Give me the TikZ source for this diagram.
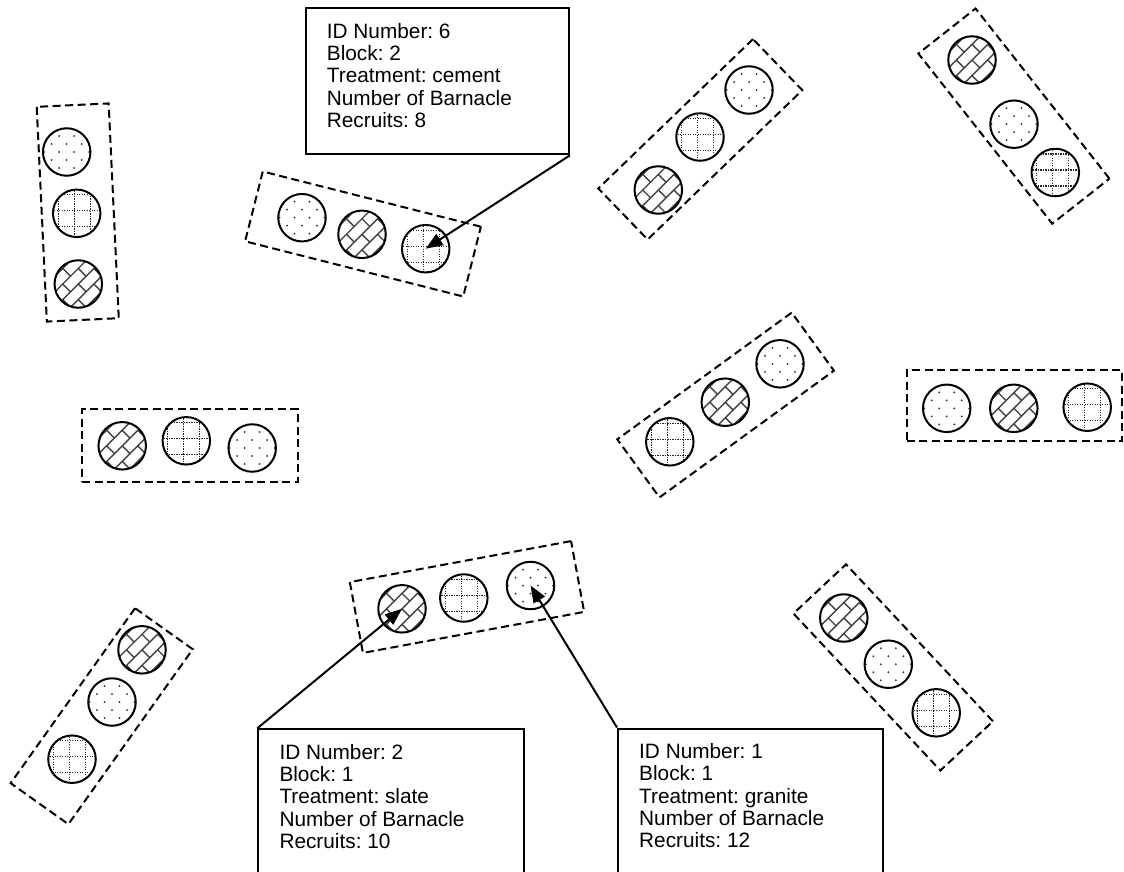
\documentclass[tikz,border=0pt]{standalone}
\usepackage{fontspec}
\newfontfamily\arialfont{Liberation Sans}
\usetikzlibrary{arrows.meta}

\newcommand\boxfont{\arialfont\frenchspacing\fontsize{20.8}{22.3}\selectfont}

% fill patterns, drawn around the origin and clipped to a disc
\newcommand\dotsfill{%
  \foreach \r in {-3,...,3}{%
    \pgfmathsetmacro\off{7.5*mod(\r+5,2)}%
    \foreach \c in {-2,...,2}{\fill[black!85] (\c*15+\off,\r*8) circle[radius=1pt];}}}
\newcommand\gridfill{%
  \foreach \k in {-2,...,2}{%
    \draw[gridline] (\k*16-2.5,-30) -- (\k*16-2.5,30);
    \draw[gridline] (-30,\k*16-2.5) -- (30,\k*16-2.5);}}
\newcommand\brickfill{%
  \begin{scope}[rotate=45]
    \foreach \k in {-3,...,3}{\draw[brickline] (-40,\k*11) -- (40,\k*11);}
    \foreach \k in {-3,...,2}{%
      \pgfmathsetmacro\off{11*mod(\k+4,2)}%
      \foreach \m in {-2,...,2}{\draw[brickline] (\m*22+\off,\k*11) -- ++(0,11);}}
  \end{scope}}

% a patterned tile: #1 name, #2 centre, #3 fill
\newcommand\disc[3]{%
  \begin{scope}
    \clip #2 circle[radius=24pt];
    \begin{scope}[shift={#2}]#3\end{scope}
  \end{scope}
  \node[tile] (#1) at #2 {};}

\begin{document}
\begin{tikzpicture}[x=1pt,y=-1pt,
  tile/.style={circle, draw, line width=2pt, minimum size=47.5pt, inner sep=0pt},
  grp/.style={draw, line width=2pt, dash pattern=on 8pt off 4.5pt, inner sep=0pt},
  card/.style={draw, line width=2pt, anchor=north west, inner sep=0pt, fill=white},
  gridline/.style={line width=1.3pt, dash pattern=on 1.2pt off 1.3pt, black!85},
  brickline/.style={line width=1.4pt, black!75},
  pointer/.style={line width=2pt, -{Triangle[length=17pt,width=13pt]}},
  txt/.style={anchor=base west, inner sep=0pt}]
\useasboundingbox (0,0) rectangle (1124,871);
\clip (0,0) rectangle (1124,871);

% dashed block outlines
\node[grp, minimum width=215pt,   minimum height=72pt,   rotate=92.7]  (gA) at (77.75,212.5) {};
\node[grp, minimum width=225pt,   minimum height=72pt,   rotate=-14.2] (gC) at (363,234) {};
\node[grp, minimum width=215pt,   minimum height=71pt,   rotate=44]    (gD) at (700.3,139.3) {};
\node[grp, minimum width=216.5pt, minimum height=72.8pt, rotate=-51.8] (gE) at (1013.9,116.1) {};
\node[grp, minimum width=215.6pt, minimum height=71.8pt, rotate=36]    (gF) at (725.6,405) {};
\node[grp, minimum width=214.7pt, minimum height=70.8pt, rotate=54.6]  (gG) at (101.7,716.2) {};
\node[grp, minimum width=215pt,   minimum height=72pt,   rotate=-46.9] (gH) at (893.2,667.4) {};
\node[grp, minimum width=215.4pt, minimum height=72.4pt]               (gI) at (190,445.5) {};
\node[grp, minimum width=215pt,   minimum height=71pt]                 (gJ) at (1014.2,405.5) {};
\node[grp, minimum width=225pt,   minimum height=72pt,   rotate=10.5]  (gK) at (467,597) {};

% tiles
\disc{a1}{(66.7,152)}{\dotsfill}
\disc{a2}{(76.7,213.3)}{\gridfill}
\disc{a3}{(78.3,284)}{\brickfill}

\disc{c1}{(302,217.7)}{\dotsfill}
\disc{c2}{(362,234.3)}{\brickfill}
\disc{c3}{(425.7,248.7)}{\gridfill}

\disc{d1}{(658.3,190)}{\brickfill}
\disc{d2}{(700,137)}{\gridfill}
\disc{d3}{(749,90)}{\dotsfill}

\disc{e1}{(972,60)}{\brickfill}
\disc{e2}{(1014,124.2)}{\dotsfill}
\disc{e3}{(1055.3,172.5)}{\gridfill}

\disc{f1}{(669.8,441.8)}{\gridfill}
\disc{f2}{(725.3,402.2)}{\brickfill}
\disc{f3}{(780,363.8)}{\dotsfill}

\disc{g1}{(142,649.8)}{\brickfill}
\disc{g2}{(112,702)}{\dotsfill}
\disc{g3}{(72,759.2)}{\gridfill}

\disc{h1}{(843.8,618)}{\brickfill}
\disc{h2}{(888.3,664.2)}{\dotsfill}
\disc{h3}{(936.2,712.8)}{\gridfill}

\disc{i1}{(122.2,445.8)}{\brickfill}
\disc{i2}{(186.3,440.8)}{\gridfill}
\disc{i3}{(252.2,448)}{\dotsfill}

\disc{j1}{(946.7,408.3)}{\dotsfill}
\disc{j2}{(1013.8,408.3)}{\brickfill}
\disc{j3}{(1087.2,407.2)}{\gridfill}

\disc{k1}{(402,608.8)}{\brickfill}
\disc{k2}{(463.8,598)}{\gridfill}
\disc{k3}{(530.5,585.5)}{\dotsfill}

% label cards
\node[card, minimum width=263pt, minimum height=146pt] (b6) at (305,7.3) {};
\node[txt] (t6) at (326.7,38.3) {\parbox[t]{240pt}{\boxfont ID Number: 6\\Block: 2\\Treatment: cement\\Number of Barnacle\\Recruits: 8}};

\node[card, minimum width=266pt, minimum height=170pt] (b2) at (257.3,728.3) {};
\node[txt] (t2) at (279.3,759.3) {\parbox[t]{240pt}{\boxfont ID Number: 2\\Block: 1\\Treatment: slate\\Number of Barnacle\\Recruits: 10}};

\node[card, minimum width=265pt, minimum height=170pt] (b1) at (617,727.5) {};
\node[txt] (t1) at (639,758.5) {\parbox[t]{240pt}{\boxfont ID Number: 1\\Block: 1\\Treatment: granite\\Number of Barnacle\\Recruits: 12}};

% pointers from cards to tiles
\draw[pointer] (b6.south east) -- (c3.center);
\draw[pointer] (b2.north west) -- (k1.center);
\draw[pointer] (b1.north west) -- (k3.center);
\end{tikzpicture}
\end{document}
